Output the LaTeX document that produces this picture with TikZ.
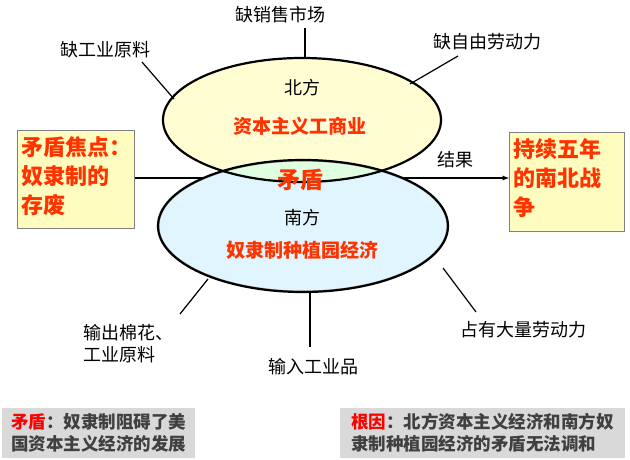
\documentclass[tikz,border=0pt]{standalone}
\usepackage{fontspec}
\setmainfont{Noto Sans CJK SC}
\definecolor{myred}{HTML}{FF3300}
\begin{document}
\begin{tikzpicture}[x=1pt,y=-1pt,
 lab/.style={font=\fontsize{18}{22}\selectfont,align=center},
 red/.style={text=myred,font=\fontsize{19}{22}\selectfont\bfseries},
 big/.style={text=myred,font=\fontsize{22}{29}\selectfont\bfseries,align=left},
 side/.style={draw=gray,fill=yellow!25,line width=0.8pt},
 note/.style={fill=gray!30,text=black!75,font=\fontsize{17.5}{22}\selectfont\bfseries,align=left,anchor=north west,inner sep=3pt},
 ln/.style={line width=1.2pt}]
\useasboundingbox (0,0) rectangle (630,460);
\node[side,minimum width=117,minimum height=98] (L) at (76,179) {};
\node[side,minimum width=115,minimum height=99] (R) at (567,182) {};
\draw[ln,-latex] (L.east|-0,178) -- (R.west|-0,178);
\fill[cyan!12] (303,226) ellipse (145 and 66);
\fill[yellow!18] (302,120) ellipse (139 and 62);
\begin{scope}
\clip (303,226) ellipse (145 and 66);
\fill[green!12] (302,120) ellipse (139 and 62);
\draw[gray!70,line width=3pt] (303,226) ellipse (145 and 66);
\end{scope}
\draw[line width=2.2pt] (303,226) ellipse (145 and 66);
\draw[line width=2.2pt] (302,120) ellipse (139 and 62);
\node[big,anchor=north west,inner sep=0pt] at (21,136) {矛盾焦点：\\奴隶制的\\存废};
\node[big,anchor=north west,inner sep=0pt] at (513,138) {持续五年\\的南北战\\争};
\node[lab] (res) at (455,160) {结果};
\node[lab] (n) at (302,88) {北方};
\node[red,fill=yellow!15,inner sep=1pt] (nc) at (300,126) {资本主义工商业};
\node[red,font=\fontsize{23}{26}\selectfont\bfseries] (m) at (300,180) {矛盾};
\node[lab] (s) at (302,218) {南方};
\node[red] (sc) at (302,250) {奴隶制种植园经济};
\node[lab] (a) at (280,15) {缺销售市场};
\node[lab] (b) at (105,50) {缺工业原料};
\node[lab] (c) at (487,42) {缺自由劳动力};
\node[lab,align=left] (d) at (128,344) {输出棉花、\\工业原料};
\node[lab] (e) at (313,367) {输入工业品};
\node[lab] (f) at (523,330) {占有大量劳动力};
\coordinate (a2) at (305,58); \coordinate (b2) at (174,99); \coordinate (c2) at (410,84);
\coordinate (d2) at (208,279); \coordinate (e2) at (310,292); \coordinate (f2) at (443,268);
\draw[ln] (305,28) -- (a2);
\draw[ln] (142,62) -- (b2);
\draw[ln] (458,56) -- (c2);
\draw[ln] (180,314) -- (d2);
\draw[ln] (310,347) -- (e2);
\draw[ln] (476,312) -- (f2);
\node[note,minimum width=193,minimum height=50] (p) at (2,408) {\textcolor{red}{矛盾}：奴隶制阻碍了美\\国资本主义经济的发展};
\node[note,minimum width=285,minimum height=50] (q) at (340,408) {\textcolor{red}{根因}：北方资本主义经济和南方奴\\隶制种植园经济的矛盾无法调和};
\end{tikzpicture}
\end{document}
